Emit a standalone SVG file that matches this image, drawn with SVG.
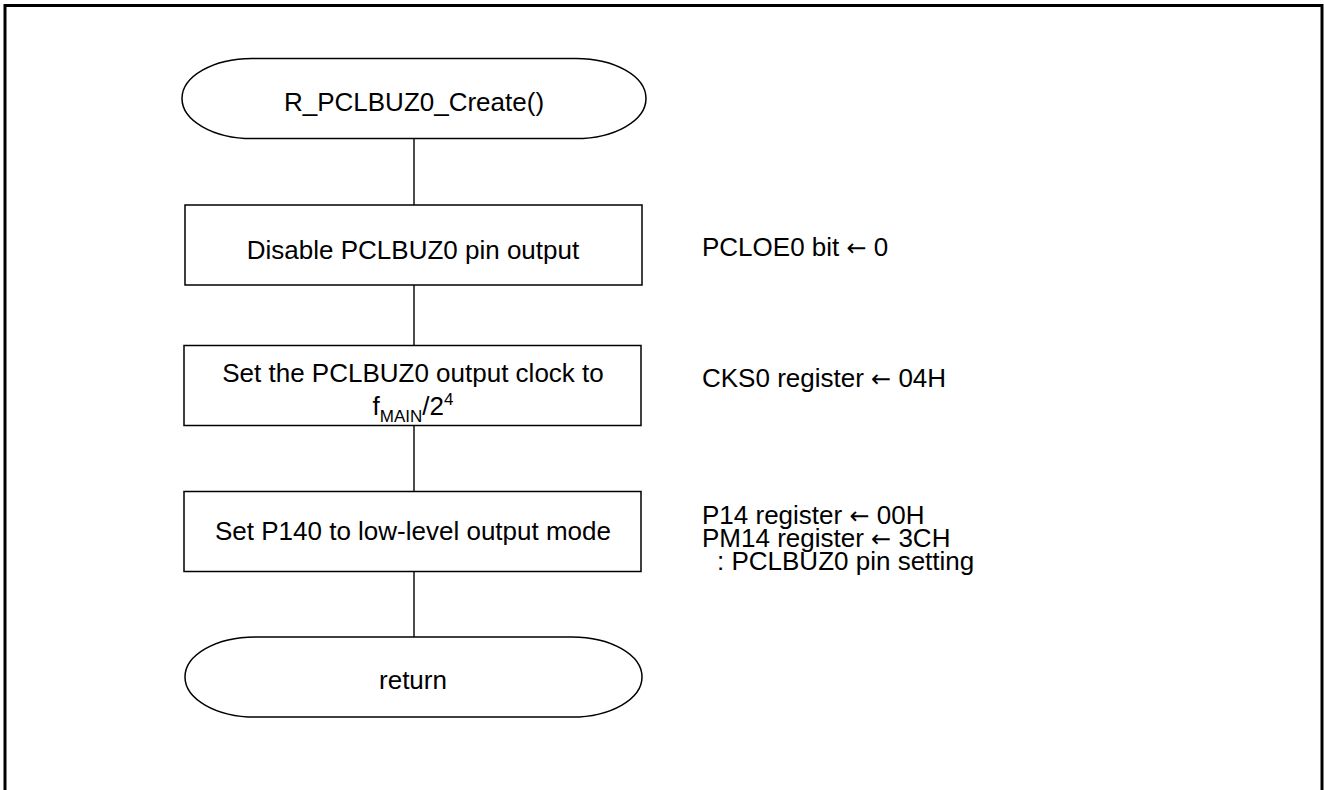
<svg xmlns="http://www.w3.org/2000/svg" width="1324" height="790" viewBox="0 0 1324 790">
<style>
text{font-family:"Liberation Sans",Arial,sans-serif;font-size:26px;fill:#000}
.c{text-anchor:middle}
.sh{fill:#fff;stroke:#000;stroke-width:1.5}
.ln{stroke:#000;stroke-width:1.4;fill:none}
.sub{font-size:17px}
.ar{font-family:"DejaVu Sans",sans-serif;font-size:24px}
</style>
<rect x="0" y="0" width="1324" height="790" fill="#fff"/>
<rect x="5" y="5.5" width="1317" height="800" fill="none" stroke="#000" stroke-width="3"/>
<g id="connectors">
<line class="ln" x1="414" y1="138" x2="414" y2="205"/>
<line class="ln" x1="414" y1="285" x2="414" y2="345.5"/>
<line class="ln" x1="414" y1="425.5" x2="414" y2="491.5"/>
<line class="ln" x1="414" y1="571.5" x2="414" y2="637"/>
</g>
<g id="start">
<path class="sh" d="M252,58.5 H576 A70 40 0 0 1 576,138.5 H252 A70 40 0 0 1 252,58.5 Z"/>
<text class="c" x="414" y="111">R_PCLBUZ0_Create()</text>
</g>
<g id="step1">
<rect class="sh" x="185" y="205" width="457" height="80"/>
<text class="c" x="413" y="259">Disable PCLBUZ0 pin output</text>
</g>
<g id="note1">
<text x="702" y="256">PCLOE0 bit <tspan class="ar">←</tspan> 0</text>
</g>
<g id="step2">
<rect class="sh" x="184" y="345.5" width="457" height="80"/>
<text class="c" x="413" y="382">Set the PCLBUZ0 output clock to</text>
<text class="c" x="413" y="415">f<tspan class="sub" dy="7">MAIN</tspan><tspan dy="-7">/2</tspan><tspan class="sub" dy="-10">4</tspan></text>
</g>
<g id="note2">
<text x="702" y="387">CKS0 register <tspan class="ar">←</tspan> 04H</text>
</g>
<g id="step3">
<rect class="sh" x="184" y="491.5" width="457" height="80"/>
<text class="c" x="413" y="540">Set P140 to low-level output mode</text>
</g>
<g id="note3">
<text x="702" y="524">P14 register <tspan class="ar">←</tspan> 00H</text>
<text x="702" y="547">PM14 register <tspan class="ar">←</tspan> 3CH</text>
<text x="717" y="570">: PCLBUZ0 pin setting</text>
</g>
<g id="end">
<path class="sh" d="M255,637 H572 A70 40 0 0 1 572,717 H255 A70 40 0 0 1 255,637 Z"/>
<text class="c" x="413" y="689">return</text>
</g>
</svg>
